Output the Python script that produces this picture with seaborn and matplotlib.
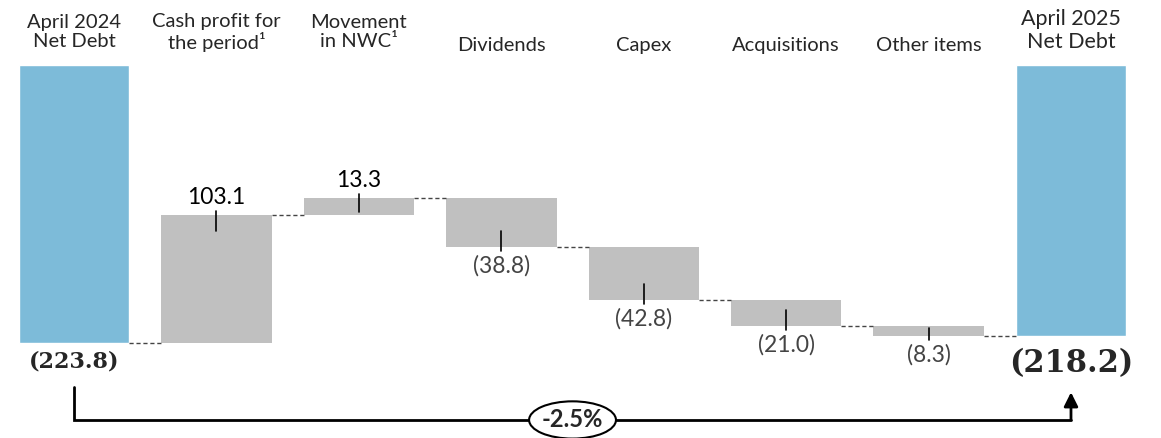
import pandas as pd
import seaborn as sns
import matplotlib.pyplot as plt
from matplotlib.patches import Ellipse

# chart data
categories = ["April 2024\nNet Debt", "Cash profit for\nthe period\u00b9", "Movement\nin NWC\u00b9",
              "Dividends", "Capex", "Acquisitions", "Other items", "April 2025\nNet Debt"]
opening_debt = -223.8
closing_debt = -218.2
movements = [103.1, 13.3, -38.8, -42.8, -21.0, -8.3]
movement_labels = ["103.1", "13.3", "(38.8)", "(42.8)", "(21.0)", "(8.3)"]
end_labels = ["(223.8)", "(218.2)"]
change_label = "-2.5%"

BLUE = "#7DBBD9"
GREY = "#C0C0C0"
PX = 1.242  # pixels per unit on the y scale


def create_net_debt_waterfall(output_path="out.png"):
    sns.set_theme(style="white")
    plt.rcParams["font.family"] = ["Lato", "DejaVu Sans"]

    fig = plt.figure(figsize=(11.61, 4.38), dpi=100)
    ax = fig.add_axes([0, 0, 1, 1])

    # opening / closing net debt bars (hang down from zero)
    ends = pd.DataFrame({"cat": [categories[0], categories[-1]],
                         "value": [opening_debt, closing_debt]})
    sns.barplot(data=ends, x="cat", y="value", order=categories, color=BLUE,
                saturation=1, width=0.775, ax=ax)

    # floating movement bars
    level = opening_debt
    levels = [level]
    for i, mv in enumerate(movements, start=1):
        lo, hi = min(level, level + mv), max(level, level + mv)
        ax.bar(i, hi - lo, bottom=lo, width=0.775, color=GREY, linewidth=0)
        bar_px = (hi - lo) * PX
        tick = min(16, bar_px * 0.8) / PX
        out = 4 / PX
        if mv > 0:
            ax.plot([i, i], [hi + out, hi - tick], color="black", lw=1.2)
            ax.annotate(movement_labels[i - 1], (i, hi), xytext=(0, 5), textcoords="offset points",
                        ha="center", va="bottom", fontsize=16.5, color="black")
        else:
            ax.plot([i, i], [lo - out, lo + tick], color="black", lw=1.2)
            ax.annotate(movement_labels[i - 1], (i, lo), xytext=(0, -6), textcoords="offset points",
                        ha="center", va="top", fontsize=16.5, color="#444444")
        level += mv
        levels.append(level)

    # dashed connectors
    half = 0.775 / 2
    for i, lv in enumerate(levels):
        ax.plot([i + half, i + 1 - half], [lv, lv], color="#444444", lw=1, ls=(0, (3, 2)))

    # category labels at the top
    for i, cat in enumerate(categories):
        if i == len(categories) - 1:
            ax.text(i, 0.930, cat, transform=ax.get_xaxis_transform(), ha="center", va="center",
                    fontsize=15.5, linespacing=1.15)
        elif "\n" in cat:
            ax.text(i, 0.926, cat, transform=ax.get_xaxis_transform(), ha="center", va="center",
                    fontsize=14.5, linespacing=1.15)
        else:
            ax.text(i, 0.897, cat, transform=ax.get_xaxis_transform(), ha="center", va="center",
                    fontsize=14.5)

    # bold end values
    ax.text(0, opening_debt - 15, end_labels[0], ha="center", va="center", fontsize=16,
            fontweight="bold", family="DejaVu Serif")
    ax.text(7, closing_debt - 22, end_labels[1], ha="center", va="center", fontsize=22,
            fontweight="bold", family="DejaVu Serif")

    # change bracket
    y_start, y_base, y_tip = -259.3, -285.8, -263.5
    ax.plot([0, 0, 7], [y_start, y_base, y_base], color="black", lw=2, solid_joinstyle="miter")
    ax.annotate("", xy=(7, y_tip), xytext=(7, y_base),
                arrowprops=dict(arrowstyle="-|>,head_length=0.7,head_width=0.35", color="black",
                                lw=2, shrinkA=0, shrinkB=0))
    ax.add_patch(Ellipse((3.5, y_base), 0.61, 30, facecolor="white", edgecolor="black", lw=1.5,
                         zorder=5))
    ax.text(3.5, y_base, change_label, ha="center", va="center", fontsize=17, fontweight="bold",
            zorder=6)

    ax.set_xlim(-0.52, 7.632)
    ax.set_ylim(-(438 - 65) / PX, 65 / PX)
    ax.axis("off")

    fig.savefig(output_path, dpi=100)
    plt.close(fig)


if __name__ == "__main__":
    create_net_debt_waterfall()
